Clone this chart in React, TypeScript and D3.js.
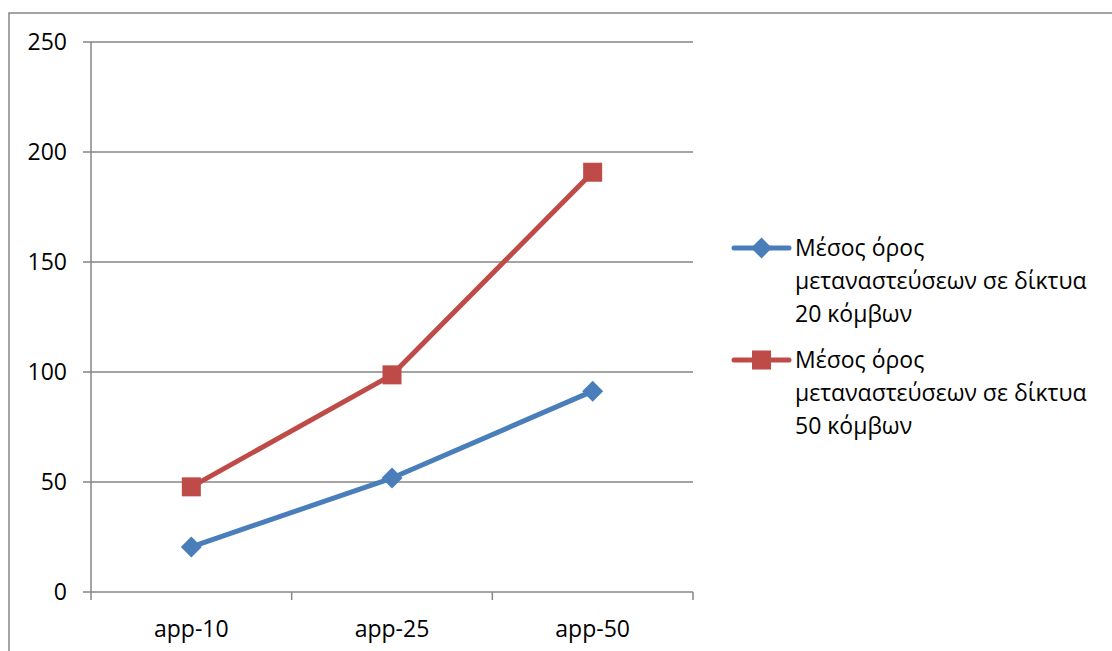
import React from "react";
import * as d3 from "d3";

const categories = ["app-10", "app-25", "app-50"];
const series20 = [20.5, 51.8, 91.3];
const series50 = [47.8, 98.7, 190.8];
const yTicks = [0, 50, 100, 150, 200, 250];
const legendLabels = [
  ["Μέσος όρος", "μεταναστεύσεων σε δίκτυα", "20 κόμβων"],
  ["Μέσος όρος", "μεταναστεύσεων σε δίκτυα", "50 κόμβων"],
];
const colors = ["#4A7EBB", "#BE4B48"];

const W = 1112;
const H = 651;
const plot = { left: 91, right: 693, top: 42, bottom: 592 };
const FONT = "'Open Sans', 'Liberation Sans', sans-serif";

export default function App() {
  const x = d3
    .scaleBand<string>()
    .domain(categories)
    .range([plot.left, plot.right])
    .paddingInner(0)
    .paddingOuter(0);
  const y = d3.scaleLinear().domain([0, 250]).range([plot.bottom, plot.top]);
  const cx = (c: string) => (x(c) as number) + x.bandwidth() / 2;
  const line = d3
    .line<number>()
    .x((_, i) => cx(categories[i]))
    .y((d) => y(d));
  const boundaries = [...categories.map((c) => x(c) as number), plot.right];
  const gridColor = "#868686";

  const diamond = (px: number, py: number, r: number) =>
    `M${px},${py - r}L${px + r},${py}L${px},${py + r}L${px - r},${py}Z`;

  return (
    <svg
      width={W}
      height={H}
      style={{ position: "absolute", left: 0, top: 0, background: "#fff" }}
      fontFamily={FONT}
    >
      <rect x={9} y={13} width={W + 20} height={H + 20} fill="#fff" stroke={gridColor} strokeWidth={1.5} />
      {yTicks.map((t) => (
        <g key={t}>
          {t > 0 && (
            <line x1={plot.left} x2={plot.right} y1={y(t)} y2={y(t)} stroke={gridColor} strokeWidth={1.5} />
          )}
          <line x1={plot.left - 8} x2={plot.left} y1={y(t)} y2={y(t)} stroke={gridColor} strokeWidth={1.5} />
          <text x={67} y={y(t)} dy="0.35em" textAnchor="end" fontSize={23} fill="#000">
            {t}
          </text>
        </g>
      ))}
      <line x1={plot.left} x2={plot.left} y1={plot.top} y2={plot.bottom} stroke={gridColor} strokeWidth={1.5} />
      <line x1={plot.left} x2={plot.right} y1={plot.bottom} y2={plot.bottom} stroke={gridColor} strokeWidth={1.5} />
      {boundaries.map((b, i) => (
        <line key={i} x1={b} x2={b} y1={plot.bottom} y2={plot.bottom + 8} stroke={gridColor} strokeWidth={1.5} />
      ))}
      {categories.map((c) => (
        <text key={c} x={cx(c)} y={629} dy="0.35em" textAnchor="middle" fontSize={23} fill="#000">
          {c}
        </text>
      ))}
      <path d={line(series20) || ""} fill="none" stroke={colors[0]} strokeWidth={5} strokeLinejoin="round" />
      <path d={line(series50) || ""} fill="none" stroke={colors[1]} strokeWidth={5} strokeLinejoin="round" />
      {series20.map((v, i) => (
        <path key={i} d={diamond(cx(categories[i]), y(v), 10.5)} fill={colors[0]} />
      ))}
      {series50.map((v, i) => (
        <rect key={i} x={cx(categories[i]) - 9.5} y={y(v) - 9.5} width={19} height={19} fill={colors[1]} />
      ))}
      {legendLabels.map((lines, k) => {
        const ly = 248 + k * 112;
        return (
          <g key={k}>
            <line x1={734} x2={789} y1={ly} y2={ly} stroke={colors[k]} strokeWidth={5} strokeLinecap="round" />
            {k === 0 ? (
              <path d={diamond(761.5, ly, 10.5)} fill={colors[0]} />
            ) : (
              <rect x={752} y={ly - 9.5} width={19} height={19} fill={colors[1]} />
            )}
            {lines.map((t, j) => (
              <text key={j} x={795} y={ly + j * 33} dy="0.35em" fontSize={23} fill="#000">
                {t}
              </text>
            ))}
          </g>
        );
      })}
    </svg>
  );
}
